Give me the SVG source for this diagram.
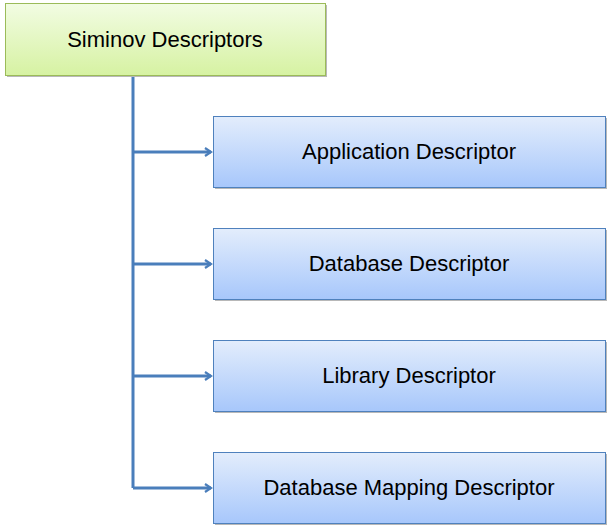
<svg xmlns="http://www.w3.org/2000/svg" width="611" height="531" viewBox="0 0 611 531">
<defs>
<linearGradient id="gG" x1="0" y1="0" x2="0" y2="1"><stop offset="0" stop-color="#f2fce3"/><stop offset="1" stop-color="#d6f2a2"/></linearGradient>
<linearGradient id="gB" x1="0" y1="0" x2="0" y2="1"><stop offset="0" stop-color="#e3edfc"/><stop offset="1" stop-color="#a7c7fb"/></linearGradient>
<marker id="arr" markerWidth="10" markerHeight="10" refX="8" refY="5" orient="auto" markerUnits="userSpaceOnUse"><path d="M2,1 L8,5 L2,9" fill="none" stroke="#4a7ebb" stroke-width="2.2"/></marker>
</defs>
<style>
.sh{fill:#b8b8b8}
.top{fill:url(#gG);stroke:#9bbb59;stroke-width:1}
.box{fill:url(#gB);stroke:#4f81bd;stroke-width:1}
text{font-family:"Liberation Sans",Arial,sans-serif;font-size:22px;fill:#000;text-anchor:middle}
.c{fill:none;stroke:#4a7ebb;stroke-width:3}
</style>
<g id="connectors">
<path class="c" d="M133,75 V488"/>
<path class="c" d="M133,152 H211" marker-end="url(#arr)"/>
<path class="c" d="M133,264 H211" marker-end="url(#arr)"/>
<path class="c" d="M133,376 H211" marker-end="url(#arr)"/>
<path class="c" d="M133,488 H211" marker-end="url(#arr)"/>
</g>
<g id="root">
<rect class="sh" x="7" y="5" width="320" height="72"/>
<rect class="top" x="5.5" y="3.5" width="320" height="72"/>
<text x="165" y="47">Siminov Descriptors</text>
</g>
<g id="app">
<rect class="sh" x="215" y="118" width="392" height="71"/>
<rect class="box" x="213.5" y="116.5" width="392" height="71"/>
<text x="409" y="159">Application Descriptor</text>
</g>
<g id="db">
<rect class="sh" x="215" y="230" width="392" height="71"/>
<rect class="box" x="213.5" y="228.5" width="392" height="71"/>
<text x="409" y="271">Database Descriptor</text>
</g>
<g id="lib">
<rect class="sh" x="215" y="342" width="392" height="71"/>
<rect class="box" x="213.5" y="340.5" width="392" height="71"/>
<text x="409" y="383">Library Descriptor</text>
</g>
<g id="map">
<rect class="sh" x="215" y="454" width="392" height="71"/>
<rect class="box" x="213.5" y="452.5" width="392" height="71"/>
<text x="409" y="495">Database Mapping Descriptor</text>
</g>
</svg>
